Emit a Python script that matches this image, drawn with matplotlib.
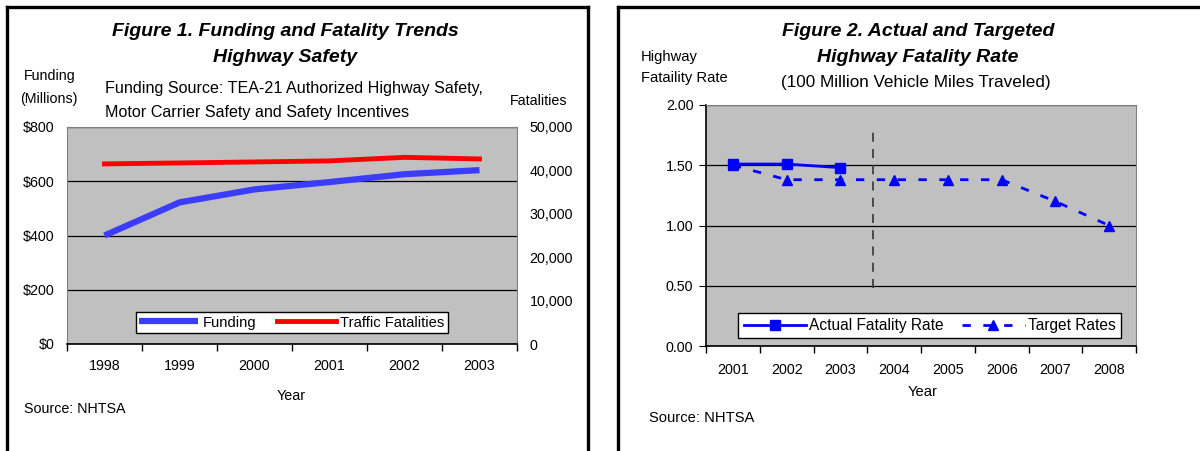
"""Two-panel highway safety chart: funding/fatalities and fatality rate targets."""

import matplotlib

matplotlib.use("Agg")
import matplotlib.pyplot as plt
from matplotlib.lines import Line2D
from matplotlib.ticker import FuncFormatter

plt.rcParams["font.family"] = ["Liberation Sans", "DejaVu Sans"]

# ---------------------------------------------------------------------------
# Data
# ---------------------------------------------------------------------------

years_fig1 = ["1998", "1999", "2000", "2001", "2002", "2003"]
funding_millions = [400, 522, 570, 597, 626, 641]
traffic_fatalities = [41501, 41717, 41945, 42196, 43005, 42643]

years_fig2 = ["2001", "2002", "2003", "2004", "2005", "2006", "2007", "2008"]
actual_rate = [1.51, 1.51, 1.48]
target_rate = [1.50, 1.38, 1.38, 1.38, 1.38, 1.38, 1.20, 1.00]

# ---------------------------------------------------------------------------
# Layout helpers (pixel coordinates of the 1200x451 canvas)
# ---------------------------------------------------------------------------

W, H = 1200, 451
PLOT_BG = "#C0C0C0"


def rect(x0, y0, x1, y1):
    return [x0 / W, 1 - y1 / H, (x1 - x0) / W, (y1 - y0) / H]


def ftext(fig, x, y, s, **kw):
    fig.text(x / W, 1 - y / H, s, **kw)


def category_axis(ax, labels, pad):
    n = len(labels)
    ax.set_xlim(-0.5, n - 0.5)
    ax.set_xticks([i - 0.5 for i in range(n + 1)])
    ax.set_xticklabels([""] * (n + 1))
    ax.set_xticks(range(n), minor=True)
    ax.set_xticklabels(labels, minor=True, fontsize=10.3)
    ax.tick_params(axis="x", which="major", direction="out", length=5, width=1)
    ax.tick_params(axis="x", which="minor", length=0, pad=pad)


fig = plt.figure(figsize=(W / 100, H / 100), dpi=100)

# panel frames
frame_kw = dict(color="black", linewidth=2.4, transform=fig.transFigure)
fig.add_artist(Line2D([7 / W, 588 / W], [1 - 7 / H, 1 - 7 / H], **frame_kw))
fig.add_artist(Line2D([7 / W, 7 / W], [0, 1 - 7 / H], **frame_kw))
fig.add_artist(Line2D([588 / W, 588 / W], [0, 1 - 7 / H], **frame_kw))
fig.add_artist(Line2D([618 / W, 1 - 0.5 / W], [1 - 7 / H, 1 - 7 / H], **frame_kw))
fig.add_artist(Line2D([618 / W, 618 / W], [0, 1 - 7 / H], **frame_kw))

# ---------------------------------------------------------------------------
# Figure 1
# ---------------------------------------------------------------------------

ax1 = fig.add_axes(rect(67, 127, 517, 344))
ax1.set_facecolor(PLOT_BG)
x1 = list(range(len(years_fig1)))
ax1.plot(x1, funding_millions, color="#3C3CFF", linewidth=4.5,
         solid_capstyle="butt", label="Funding", zorder=3)
ax1.set_ylim(0, 800)
ax1.set_yticks([0, 200, 400, 600, 800])
ax1.yaxis.set_major_formatter(FuncFormatter(lambda v, _: f"${v:,.0f}"))
ax1.tick_params(axis="y", length=0, pad=9, labelsize=10.3)
ax1.grid(axis="y", color="black", linewidth=0.9)
ax1.set_axisbelow(True)
category_axis(ax1, years_fig1, pad=11)
for side in ("top", "right", "left"):
    ax1.spines[side].set_color("#808080")
ax1.spines["bottom"].set_color("black")
ax1.spines["bottom"].set_linewidth(1.2)

ax1b = ax1.twinx()
ax1b.plot(x1, traffic_fatalities, color="#FF0000", linewidth=3.5,
          label="Traffic Fatalities", zorder=3)
ax1b.set_ylim(0, 50000)
ax1b.set_yticks(range(0, 50001, 10000))
ax1b.yaxis.set_major_formatter(FuncFormatter(lambda v, _: f"{v:,.0f}"))
ax1b.tick_params(axis="y", length=0, pad=9, labelsize=10.3)
for side in ("top", "right", "left", "bottom"):
    ax1b.spines[side].set_visible(False)

h1, l1 = ax1.get_legend_handles_labels()
h2, l2 = ax1b.get_legend_handles_labels()
leg1 = ax1b.legend(h1 + h2, l1 + l2, loc="center", bbox_to_anchor=(0.5, 0.099),
                   ncol=2, fontsize=10.6, frameon=True, fancybox=False,
                   framealpha=1, edgecolor="black", handlelength=4.0,
                   handletextpad=0.3, columnspacing=1.4, borderpad=0.25)
leg1.get_frame().set_linewidth(1.0)

ftext(fig, 285, 32, "Figure 1. Funding and Fatality Trends", fontsize=14,
      fontweight="bold", fontstyle="italic", ha="center", va="center")
ftext(fig, 285, 58, "Highway Safety", fontsize=14,
      fontweight="bold", fontstyle="italic", ha="center", va="center")
ftext(fig, 50, 76, "Funding", fontsize=10.3, ha="center", va="center")
ftext(fig, 49, 99, "(Millions)", fontsize=10.3, ha="center", va="center")
ftext(fig, 105, 89, "Funding Source: TEA-21 Authorized Highway Safety,",
      fontsize=11.6, ha="left", va="center")
ftext(fig, 105, 112, "Motor Carrier Safety and Safety Incentives",
      fontsize=11.6, ha="left", va="center")
ftext(fig, 539, 101, "Fatalities", fontsize=10.3, ha="center", va="center")
ftext(fig, 291, 396, "Year", fontsize=10.3, ha="center", va="center")
ftext(fig, 24, 409, "Source: NHTSA", fontsize=10.3, ha="left", va="center")

# ---------------------------------------------------------------------------
# Figure 2
# ---------------------------------------------------------------------------

ax2 = fig.add_axes(rect(706, 105, 1136, 346))
ax2.set_facecolor(PLOT_BG)
x2 = list(range(len(years_fig2)))
ax2.plot(x2[:len(actual_rate)], actual_rate, color="#0000FF", linewidth=2,
         marker="s", markersize=7, label="Actual Fatality Rate", zorder=4)
ax2.plot(x2, target_rate, color="#0000FF", linewidth=2, linestyle=(0, (3, 4.5)),
         marker="^", markersize=7, label="Target Rates", zorder=3)
ax2.vlines(2.6, 0.48, 1.81, color="#404040", linewidth=1.3,
           linestyles=(0, (5, 4)), zorder=2)
ax2.set_ylim(0, 2)
ax2.set_yticks([0, 0.5, 1.0, 1.5, 2.0])
ax2.yaxis.set_major_formatter(FuncFormatter(lambda v, _: f"{v:.2f}"))
ax2.tick_params(axis="y", direction="out", length=5, pad=4, labelsize=10.3)
ax2.grid(axis="y", color="black", linewidth=0.9)
ax2.set_axisbelow(True)
category_axis(ax2, years_fig2, pad=12)
for side in ("top", "right"):
    ax2.spines[side].set_color("#808080")
for side in ("left", "bottom"):
    ax2.spines[side].set_color("black")
    ax2.spines[side].set_linewidth(1.2)

leg2 = ax2.legend(loc="center", bbox_to_anchor=(0.52, 0.085), ncol=2,
                  fontsize=11.2, frameon=True, fancybox=False, framealpha=1,
                  edgecolor="black", handlelength=4.0, handletextpad=0.2,
                  columnspacing=1.2, borderpad=0.35)
leg2.get_frame().set_linewidth(1.0)

ftext(fig, 918, 32, "Figure 2. Actual and Targeted", fontsize=14,
      fontweight="bold", fontstyle="italic", ha="center", va="center")
ftext(fig, 918, 58, "Highway Fatality Rate", fontsize=14,
      fontweight="bold", fontstyle="italic", ha="center", va="center")
ftext(fig, 916, 82, "(100 Million Vehicle Miles Traveled)", fontsize=12.3,
      ha="center", va="center")
ftext(fig, 641, 57, "Highway", fontsize=10.6, ha="left", va="center")
ftext(fig, 641, 78, "Fataility Rate", fontsize=10.6, ha="left", va="center")
ftext(fig, 923, 392, "Year", fontsize=10.6, ha="center", va="center")
ftext(fig, 649, 418, "Source: NHTSA", fontsize=10.6, ha="left", va="center")

fig.savefig("out.png", dpi=100)
